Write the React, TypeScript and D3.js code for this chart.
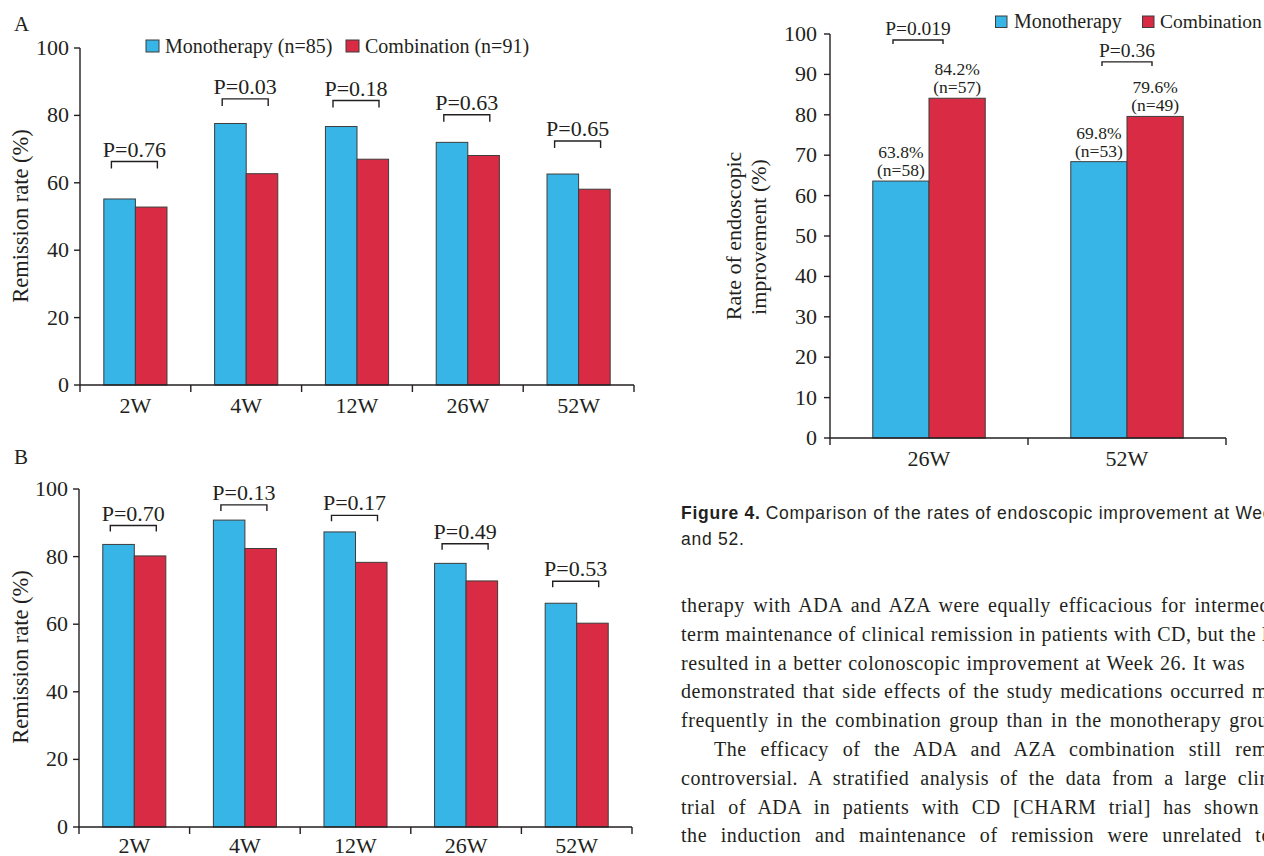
import React, { useLayoutEffect, useRef } from 'react';
import * as d3 from 'd3';

// ---------- Data ----------
const weeks = ['2W', '4W', '12W', '26W', '52W'];

// Panel A: remission rate
const monoA = [55.2, 77.6, 76.7, 72.0, 62.6];
const comboA = [52.8, 62.7, 67.0, 68.1, 58.1];
const pLabelsA = ['P=0.76', 'P=0.03', 'P=0.18', 'P=0.63', 'P=0.65'];
const bracketA = [66.3, 84.9, 84.4, 80.2, 72.4];

// Panel B: remission rate
const monoB = [83.6, 90.8, 87.3, 78.0, 66.2];
const comboB = [80.2, 82.4, 78.3, 72.8, 60.3];
const pLabelsB = ['P=0.70', 'P=0.13', 'P=0.17', 'P=0.49', 'P=0.53'];
const bracketB = [89.2, 95.3, 92.2, 83.8, 72.7];

// Figure 4: endoscopic improvement
const endoWeeks = ['26W', '52W'];
const endoMono = [63.6, 68.4];
const endoCombo = [84.1, 79.6];
const endoMonoPct = ['63.8%', '69.8%'];
const endoMonoN = ['(n=58)', '(n=53)'];
const endoComboPct = ['84.2%', '79.6%'];
const endoComboN = ['(n=57)', '(n=49)'];
const pLabelsC = ['P=0.019', 'P=0.36'];
const bracketC = [98.5, 93.1];

const ticksAB = [0, 20, 40, 60, 80, 100];
const ticksC = [0, 10, 20, 30, 40, 50, 60, 70, 80, 90, 100];

const paraLines = [
  'therapy with ADA and AZA were equally efficacious for intermed',
  'term maintenance of clinical remission in patients with CD, but the l',
  'resulted in a better colonoscopic improvement at Week 26. It was',
  'demonstrated that side effects of the study medications occurred m',
  'frequently in the combination group than in the monotherapy grou',
  'The efficacy of the ADA and AZA combination still rem',
  'controversial. A stratified analysis of the data from a large clin',
  'trial of ADA in patients with CD [CHARM trial] has shown',
  'the induction and maintenance of remission were unrelated to',
];
const paraIndent = [0, 0, 0, 0, 0, 33, 0, 0, 0];
const paraEnd = [1270, 1268, 1245, 1268, 1268, 1268, 1270, 1259, 1272];

// ---------- Styles ----------
const BLUE = '#38B5E7';
const RED = '#D92B43';
const INK = '#231F20';
const BAR_STROKE = '#3d3d3d';
const SERIF = '"Liberation Serif", "Times New Roman", serif';
const SANS = '"Liberation Sans", Arial, sans-serif';

type PanelProps = {
  cats: string[];
  mono: number[];
  combo: number[];
  pLabels: string[];
  brackets: number[];
  ticks: number[];
  x0: number;
  x1: number;
  y0: number;
  y100: number;
  barFrac: number;
  bracketW: number;
  legLen: number;
  pFont: number;
  xLabelOffset: number;
};

function BarPanel(p: PanelProps) {
  const x = d3.scaleBand<string>().domain(p.cats).range([p.x0, p.x1]).paddingInner(0).paddingOuter(0);
  const y = d3.scaleLinear().domain([0, 100]).range([p.y0, p.y100]);
  const bw = x.bandwidth() * p.barFrac;
  const edges = p.cats.map((c) => x(c) as number).concat([p.x1]);
  return (
    <g>
      {p.cats.map((c, i) => {
        const cx = (x(c) as number) + x.bandwidth() / 2;
        const bx = cx - 1;
        const by = y(p.brackets[i]);
        return (
          <g key={c}>
            <rect x={cx - bw} y={y(p.mono[i])} width={bw} height={p.y0 - y(p.mono[i])} fill={BLUE} stroke={BAR_STROKE} strokeWidth={1} />
            <rect x={cx} y={y(p.combo[i])} width={bw} height={p.y0 - y(p.combo[i])} fill={RED} stroke={BAR_STROKE} strokeWidth={1} />
            <path
              d={`M${bx - p.bracketW / 2},${by + p.legLen}V${by}H${bx + p.bracketW / 2}V${by + p.legLen}`}
              fill="none"
              stroke={INK}
              strokeWidth={1.4}
            />
            <text x={bx} y={by - 5} textAnchor="middle" fontFamily={SERIF} fontSize={p.pFont} fill={INK}>
              {p.pLabels[i]}
            </text>
            <text x={cx} y={p.y0 + p.xLabelOffset} textAnchor="middle" fontFamily={SERIF} fontSize={22} fill={INK}>
              {c}
            </text>
          </g>
        );
      })}
      {/* y axis */}
      <line x1={p.x0} x2={p.x0} y1={p.y100} y2={p.y0} stroke={INK} strokeWidth={1.4} />
      {p.ticks.map((t) => (
        <g key={t}>
          <line x1={p.x0 - 6} x2={p.x0} y1={y(t)} y2={y(t)} stroke={INK} strokeWidth={1.4} />
          <text x={p.x0 - 11} y={y(t) + 7} textAnchor="end" fontFamily={SERIF} fontSize={22} fill={INK}>
            {t}
          </text>
        </g>
      ))}
      {/* x axis */}
      <line x1={p.x0} x2={p.x1} y1={p.y0} y2={p.y0} stroke={INK} strokeWidth={1.4} />
      {edges.map((e, i) => (
        <line key={i} x1={e} x2={e} y1={p.y0} y2={p.y0 + 7} stroke={INK} strokeWidth={1.4} />
      ))}
    </g>
  );
}

function Paragraph() {
  const refs = useRef<(SVGTextElement | null)[]>([]);
  useLayoutEffect(() => {
    refs.current.forEach((el, i) => {
      if (!el) return;
      el.setAttribute('word-spacing', '0');
      const natural = el.getComputedTextLength();
      const start = 681 + paraIndent[i];
      const target = paraEnd[i] - start;
      const spaces = (paraLines[i].match(/ /g) || []).length;
      if (spaces > 0) el.setAttribute('word-spacing', String((target - natural) / spaces));
    });
  }, []);
  return (
    <g>
      {paraLines.map((line, i) => (
        <text
          key={i}
          ref={(el) => {
            refs.current[i] = el;
          }}
          x={681 + paraIndent[i]}
          y={612 + i * 28.8}
          fontFamily={SERIF}
          fontSize={20}
          letterSpacing={0.55}
          fill={INK}
          style={{ whiteSpace: 'pre' }}
        >
          {line}
        </text>
      ))}
    </g>
  );
}

function EndoPanel() {
  const x0 = 830;
  const x1 = 1226;
  const y0 = 438;
  const y100 = 34;
  const x = d3.scaleBand<string>().domain(endoWeeks).range([x0, x1]);
  const y = d3.scaleLinear().domain([0, 100]).range([y0, y100]);
  const bw = x.bandwidth() * 0.284;
  const edges = endoWeeks.map((c) => x(c) as number).concat([x1]);
  return (
    <g>
      {endoWeeks.map((c, i) => {
        const cx = (x(c) as number) + x.bandwidth() / 2;
        const by = y(bracketC[i]);
        const bcx = i === 0 ? cx - 11 : cx;
        return (
          <g key={c}>
            <rect x={cx - bw} y={y(endoMono[i])} width={bw} height={y0 - y(endoMono[i])} fill={BLUE} stroke={BAR_STROKE} strokeWidth={1} />
            <rect x={cx} y={y(endoCombo[i])} width={bw} height={y0 - y(endoCombo[i])} fill={RED} stroke={BAR_STROKE} strokeWidth={1} />
            <text x={cx - bw / 2} y={y(endoMono[i]) - 23} textAnchor="middle" fontFamily={SERIF} fontSize={17.5} fill={INK}>
              {endoMonoPct[i]}
            </text>
            <text x={cx - bw / 2} y={y(endoMono[i]) - 5} textAnchor="middle" fontFamily={SERIF} fontSize={17.5} fill={INK}>
              {endoMonoN[i]}
            </text>
            <text x={cx + bw / 2} y={y(endoCombo[i]) - 23} textAnchor="middle" fontFamily={SERIF} fontSize={17.5} fill={INK}>
              {endoComboPct[i]}
            </text>
            <text x={cx + bw / 2} y={y(endoCombo[i]) - 5} textAnchor="middle" fontFamily={SERIF} fontSize={17.5} fill={INK}>
              {endoComboN[i]}
            </text>
            <path d={`M${bcx - 25},${by + 4}V${by}H${bcx + 25}V${by + 4}`} fill="none" stroke={INK} strokeWidth={1.4} />
            <text x={bcx} y={by - 5} textAnchor="middle" fontFamily={SERIF} fontSize={19.5} fill={INK}>
              {pLabelsC[i]}
            </text>
            <text x={cx} y={y0 + 28} textAnchor="middle" fontFamily={SERIF} fontSize={22} fill={INK}>
              {c}
            </text>
          </g>
        );
      })}
      <line x1={x0} x2={x0} y1={y100} y2={y0} stroke={INK} strokeWidth={1.4} />
      {ticksC.map((t) => (
        <g key={t}>
          <line x1={x0 - 6} x2={x0} y1={y(t)} y2={y(t)} stroke={INK} strokeWidth={1.4} />
          <text x={x0 - 13} y={y(t) + 7} textAnchor="end" fontFamily={SERIF} fontSize={22} fill={INK}>
            {t}
          </text>
        </g>
      ))}
      <line x1={x0} x2={x1} y1={y0} y2={y0} stroke={INK} strokeWidth={1.4} />
      {edges.map((e, i) => (
        <line key={i} x1={e} x2={e} y1={y0} y2={y0 + 7} stroke={INK} strokeWidth={1.4} />
      ))}
      {/* y label */}
      <text transform={`translate(741,236) rotate(-90)`} textAnchor="middle" fontFamily={SERIF} fontSize={22} fill={INK}>
        Rate of endoscopic
      </text>
      <text transform={`translate(766,237) rotate(-90)`} textAnchor="middle" fontFamily={SERIF} fontSize={22} fill={INK}>
        improvement (%)
      </text>
      {/* legend */}
      <rect x={995.5} y={16} width={11.5} height={11.5} fill={BLUE} stroke={BAR_STROKE} strokeWidth={1} />
      <text x={1014} y={28} fontFamily={SERIF} fontSize={20} fill={INK}>Monotherapy</text>
      <rect x={1142.5} y={16} width={11.5} height={11.5} fill={RED} stroke={BAR_STROKE} strokeWidth={1} />
      <text x={1160} y={28} fontFamily={SERIF} fontSize={19.5} fill={INK}>Combination</text>
    </g>
  );
}

export default function App() {
  return (
    <svg
      width={1264}
      height={856}
      viewBox="0 0 1264 856"
      style={{ position: 'absolute', left: 0, top: 0, background: '#fff' }}
    >
      <rect x={0} y={0} width={1264} height={856} fill="#fff" />
      {/* Panel A */}
      <text x={14} y={31} fontFamily={SERIF} fontSize={21} fill={INK}>A</text>
      <rect x={146} y={40} width={13} height={12} fill={BLUE} stroke={BAR_STROKE} strokeWidth={1} />
      <text x={165} y={52.5} fontFamily={SERIF} fontSize={20} fill={INK}>Monotherapy (n=85)</text>
      <rect x={346} y={40} width={13} height={12} fill={RED} stroke={BAR_STROKE} strokeWidth={1} />
      <text x={365} y={52.5} fontFamily={SERIF} fontSize={20} fill={INK}>Combination (n=91)</text>
      <text transform="translate(28,216) rotate(-90)" textAnchor="middle" fontFamily={SERIF} fontSize={22.5} fill={INK}>
        Remission rate (%)
      </text>
      <BarPanel
        cats={weeks}
        mono={monoA}
        combo={comboA}
        pLabels={pLabelsA}
        brackets={bracketA}
        ticks={ticksAB}
        x0={80}
        x1={634}
        y0={385}
        y100={48}
        barFrac={0.285}
        bracketW={46}
        legLen={7}
        pFont={22}
        xLabelOffset={28}
      />
      {/* Panel B */}
      <text x={14} y={464} fontFamily={SERIF} fontSize={21} fill={INK}>B</text>
      <text transform="translate(28,657) rotate(-90)" textAnchor="middle" fontFamily={SERIF} fontSize={22.5} fill={INK}>
        Remission rate (%)
      </text>
      <BarPanel
        cats={weeks}
        mono={monoB}
        combo={comboB}
        pLabels={pLabelsB}
        brackets={bracketB}
        ticks={ticksAB}
        x0={79}
        x1={632}
        y0={827}
        y100={489}
        barFrac={0.285}
        bracketW={46}
        legLen={6}
        pFont={22}
        xLabelOffset={26}
      />
      {/* Figure 4 */}
      <EndoPanel />
      <text x={681} y={519} fontFamily={SANS} fontSize={17.5} fill={INK} letterSpacing={0.75}>
        <tspan fontWeight="bold">Figure 4.</tspan>
        <tspan dx={5}>Comparison of the rates of endoscopic improvement at Week 26</tspan>
      </text>
      <text x={681} y={544.5} fontFamily={SANS} fontSize={17.5} fill={INK} letterSpacing={0.75}>
        and 52.
      </text>
      <Paragraph />
    </svg>
  );
}
